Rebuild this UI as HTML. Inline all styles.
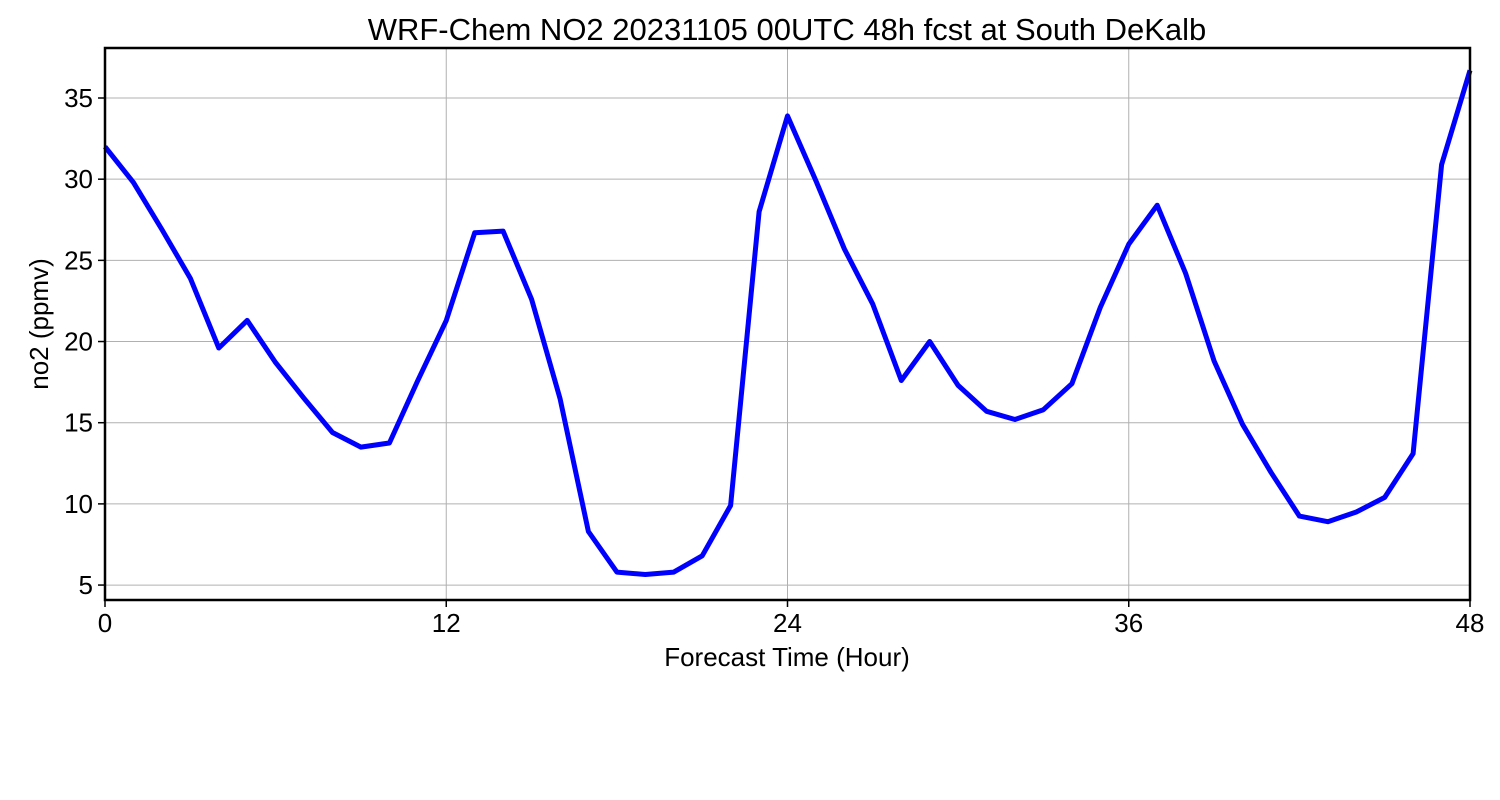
<!DOCTYPE html>
<html><head><meta charset="utf-8"><style>
body{margin:0;background:#fff;}
svg{display:block;font-family:"Liberation Sans","DejaVu Sans",sans-serif;}
</style></head><body>
<svg id="chart" width="1500" height="800">
<rect width="1500" height="800" fill="#fff"/>
<text x="787" y="40" font-size="31" text-anchor="middle">WRF-Chem NO2  20231105 00UTC 48h fcst at South DeKalb</text>
<g id="grid"></g>
<g id="ticks"></g>
<path id="line" fill="none" stroke="#0000ff" stroke-width="5" stroke-linejoin="round"/>
<rect x="105" y="48" width="1365" height="552" fill="none" stroke="#000" stroke-width="2.5"/>
<text x="787" y="666" font-size="26" text-anchor="middle">Forecast Time (Hour)</text>
<text transform="translate(48,324) rotate(-90)" font-size="26" text-anchor="middle">no2  (ppmv)</text>
</svg>
<script>
const hours=[0,1,2,3,4,5,6,7,8,9,10,11,12,13,14,15,16,17,18,19,20,21,22,23,24,25,26,27,28,29,30,31,32,33,34,35,36,37,38,39,40,41,42,43,44,45,46,47,48];
const no2=[32.0,29.8,26.9,23.9,19.6,21.3,18.7,16.5,14.4,13.5,13.75,17.6,21.3,26.7,26.8,22.6,16.5,8.3,5.8,5.65,5.8,6.8,9.9,28.0,33.9,29.9,25.7,22.3,17.6,20.0,17.3,15.7,15.2,15.8,17.4,22.1,26.0,28.4,24.2,18.8,14.9,11.95,9.25,8.9,9.5,10.4,13.1,30.9,36.7];
const xTicks=[0,12,24,36,48];
const yTicks=[5,10,15,20,25,30,35];
const X0=105,X1=1470,Y0=600,Y1=48,xmin=0,xmax=48,ymin=4.08,ymax=38.08;
const sx=v=>X0+(v-xmin)/(xmax-xmin)*(X1-X0);
const sy=v=>Y0-(v-ymin)/(ymax-ymin)*(Y0-Y1);
const NS="http://www.w3.org/2000/svg";
const grid=document.getElementById('grid'),ticks=document.getElementById('ticks');
function mk(tag,attrs,parent){const e=document.createElementNS(NS,tag);for(const k in attrs)e.setAttribute(k,attrs[k]);parent.appendChild(e);return e;}
xTicks.forEach(t=>{
  const x=sx(t);
  const g=mk('line',{x1:x,x2:x,y1:Y1,y2:Y0,stroke:'#b0b0b0','stroke-width':1},grid);
  
  
  const tk=mk('line',{x1:x,x2:x,y1:Y0,y2:Y0+7,stroke:'#000','stroke-width':1.5},ticks);
  
  
  const tx=mk('text',{x:x,y:632,'font-size':26,'text-anchor':'middle'},ticks);
  tx.textContent=t;
  
  
});
yTicks.forEach(t=>{
  const y=sy(t);
  const g=mk('line',{x1:X0,x2:X1,y1:y,y2:y,stroke:'#b0b0b0','stroke-width':1},grid);
  
  
  const tk=mk('line',{x1:X0-7,x2:X0,y1:y,y2:y,stroke:'#000','stroke-width':1.5},ticks);
  
  
  const tx=mk('text',{x:X0-12,y:y+9,'font-size':26,'text-anchor':'end'},ticks);
  tx.textContent=t;
  
  
});
document.getElementById('line').setAttribute('d',hours.map((h,i)=>(i?'L':'M')+sx(h).toFixed(1)+','+sy(no2[i]).toFixed(1)).join(''));
</script>
</body></html>
